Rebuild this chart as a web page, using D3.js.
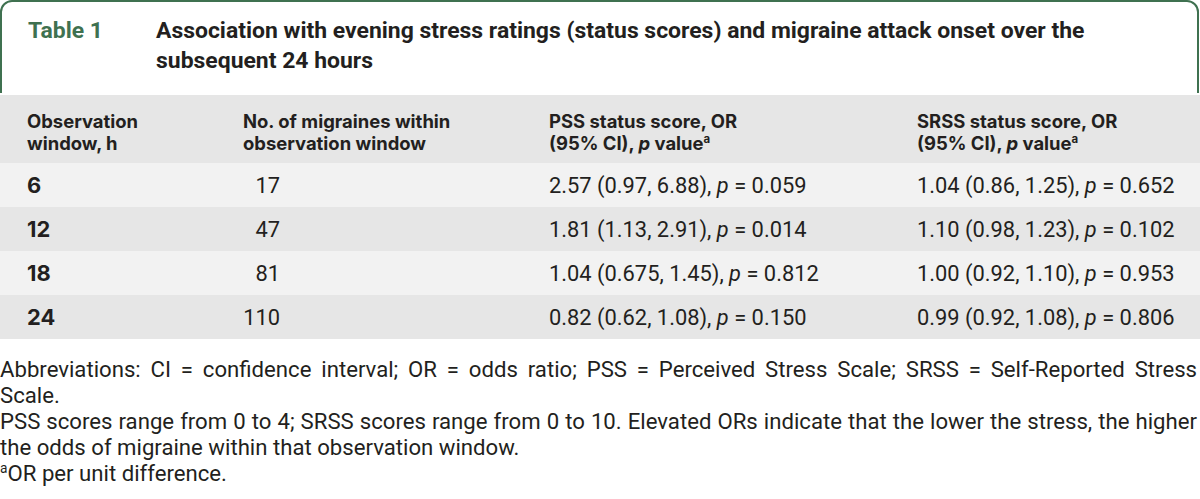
<!DOCTYPE html>
<html><head><meta charset="utf-8">
<script src="https://cdn.jsdelivr.net/npm/d3@7"></script>
<style>body{margin:0;background:#fff;}svg{display:block}</style>
</head><body>
<svg id="chart" width="1200" height="499"></svg>
<script>
// ---------- data ----------
const tableLabel = "Table 1";
const titleLines = [
  "Association with evening stress ratings (status scores) and migraine attack onset over the",
  "subsequent 24 hours"
];
const headerCols = [
  [[{t:"Observation"}],[{t:"window, h"}]],
  [[{t:"No. of migraines within"}],[{t:"observation window"}]],
  [[{t:"PSS status score, OR"}],[{t:"(95% CI), "},{t:"p",i:true},{t:" value"},{t:"a",sup:true}]],
  [[{t:"SRSS status score, OR"}],[{t:"(95% CI), "},{t:"p",i:true},{t:" value"},{t:"a",sup:true}]]
];
const windows   = ["6", "12", "18", "24"];
const migraines = ["17", "47", "81", "110"];
const pssOR  = ["2.57", "1.81", "1.04", "0.82"];
const pssLo  = ["0.97", "1.13", "0.675", "0.62"];
const pssHi  = ["6.88", "2.91", "1.45", "1.08"];
const pssP   = ["0.059", "0.014", "0.812", "0.150"];
const srssOR = ["1.04", "1.10", "1.00", "0.99"];
const srssLo = ["0.86", "0.98", "0.92", "0.92"];
const srssHi = ["1.25", "1.23", "1.10", "1.08"];
const srssP  = ["0.652", "0.102", "0.953", "0.806"];
const footLines = [
  [{t:"Abbreviations: CI = confidence interval; OR = odds ratio; PSS = Perceived Stress Scale; SRSS = Self-Reported Stress"}],
  [{t:"Scale."}],
  [{t:"PSS scores range from 0 to 4; SRSS scores range from 0 to 10. Elevated ORs indicate that the lower the stress, the higher"}],
  [{t:"the odds of migraine within that observation window."}],
  [{t:"a",sup:true},{t:"OR per unit difference."}]
];

// ---------- style / layout ----------
const W = 1200, H = 499;
const green = "#3f7150", ink = "#231f20";
const boldFont = "Inter", titleFont = "Roboto", regFont = "Roboto";
const cv = document.createElement("canvas").getContext("2d");
function measure(text, weight, family, size){
  cv.font = `${weight} ${size}px ${family}`;
  return cv.measureText(text).width;
}
function fit(text, weight, family, target){
  return 100 * target / measure(text, weight, family, 100);
}
const titleSize = fit(titleLines[0], "bold", titleFont, 929);
const headSize  = fit("No. of migraines within", "bold", boldFont, 208);
const dataSize  = fit("2.57 (0.97, 6.88), p = 0.059", "normal", regFont, 258);
const footSize  = fit(footLines[2][0].t, "normal", regFont, 1185);

const svg = d3.select("#chart");

// title box
const r = 11, bx0 = 1, bx1 = 1198, by0 = 1, by1 = 93;
const p = d3.path();
p.moveTo(bx0, by1); p.lineTo(bx0, by0 + r);
p.arcTo(bx0, by0, bx0 + r, by0, r);
p.lineTo(bx1 - r, by0);
p.arcTo(bx1, by0, bx1, by0 + r, r);
p.lineTo(bx1, by1);
svg.append("path").attr("d", p.toString()).attr("fill","none").attr("stroke", green).attr("stroke-width", 2);

svg.append("text").attr("x", 28).attr("y", 38).attr("font-family", titleFont).attr("font-weight","bold")
  .attr("font-size", titleSize).attr("fill", green).text(tableLabel);
svg.selectAll("text.title").data(titleLines).join("text").attr("class","title")
  .attr("x", 156).attr("y", (d,i) => 38 + i*30).attr("font-family", titleFont).attr("font-weight","bold")
  .attr("font-size", titleSize).attr("fill", ink).text(d => d);

// header band
svg.append("rect").attr("x",0).attr("y",95).attr("width",W).attr("height",68).attr("fill","#e6e6e6");

function writeSegs(sel, segs, size){
  let shifted = false;
  segs.forEach(s => {
    const ts = sel.append("tspan").text(s.t);
    if (s.i) ts.attr("font-style","italic");
    if (s.sup){ ts.attr("font-size", size*0.62).attr("dy", -size*0.38); shifted = true; }
    else if (shifted){ ts.attr("dy", size*0.38); shifted = false; }
  });
}
const headX = [27, 243, 549, 917];
headerCols.forEach((col, c) => {
  col.forEach((line, li) => {
    const t = svg.append("text").attr("x", headX[c]).attr("y", 128 + li*22)
      .attr("font-family", boldFont).attr("font-weight","bold").attr("font-size", headSize).attr("fill", ink);
    writeSegs(t, line, headSize);
  });
});

// rows
const y = d3.scaleBand().domain(windows).range([163, 339]);
const rows = windows.map((w,i) => ({w, n: migraines[i],
  pss: [{t:`${pssOR[i]} (${pssLo[i]}, ${pssHi[i]}), `},{t:"p",i:true},{t:` = ${pssP[i]}`}],
  srss: [{t:`${srssOR[i]} (${srssLo[i]}, ${srssHi[i]}), `},{t:"p",i:true},{t:` = ${srssP[i]}`}] }));
const g = svg.selectAll("g.row").data(rows).join("g").attr("class","row")
  .attr("transform", d => `translate(0,${y(d.w)})`);
g.append("rect").attr("width", W).attr("height", y.bandwidth())
  .attr("fill", (d,i) => i % 2 ? "#e6e6e6" : "#f2f2f2");
const by = y.bandwidth()/2 + 8;
g.append("text").attr("x", 27).attr("y", by).attr("font-family", boldFont).attr("font-weight","bold")
  .attr("font-size", dataSize).attr("fill", ink).text(d => d.w);
g.append("text").attr("x", 280).attr("y", by).attr("text-anchor","end").attr("font-family", regFont)
  .attr("font-size", dataSize).attr("fill", ink).text(d => d.n);
g.each(function(d){
  const s = d3.select(this);
  writeSegs(s.append("text").attr("x", 549).attr("y", by).attr("font-family", regFont)
    .attr("font-size", dataSize).attr("fill", ink), d.pss, dataSize);
  writeSegs(s.append("text").attr("x", 917).attr("y", by).attr("font-family", regFont)
    .attr("font-size", dataSize).attr("fill", ink), d.srss, dataSize);
});

// footnotes (lines 1 and 3 justified to full width via word spacing)
const footY = [377, 403, 429, 455, 481];
footLines.forEach((line, i) => {
  const t = svg.append("text").attr("x", 0).attr("y", footY[i]).attr("font-family", regFont)
    .attr("font-size", footSize).attr("fill", ink);
  if (i === 0 || i === 2) {
    const txt = line.map(s => s.t).join("");
    const nat = measure(txt, "normal", regFont, footSize);
    const spaces = (txt.match(/ /g) || []).length;
    t.attr("word-spacing", (1197 - nat) / spaces);
  }
  writeSegs(t, line, footSize);
});
</script>
</body></html>
